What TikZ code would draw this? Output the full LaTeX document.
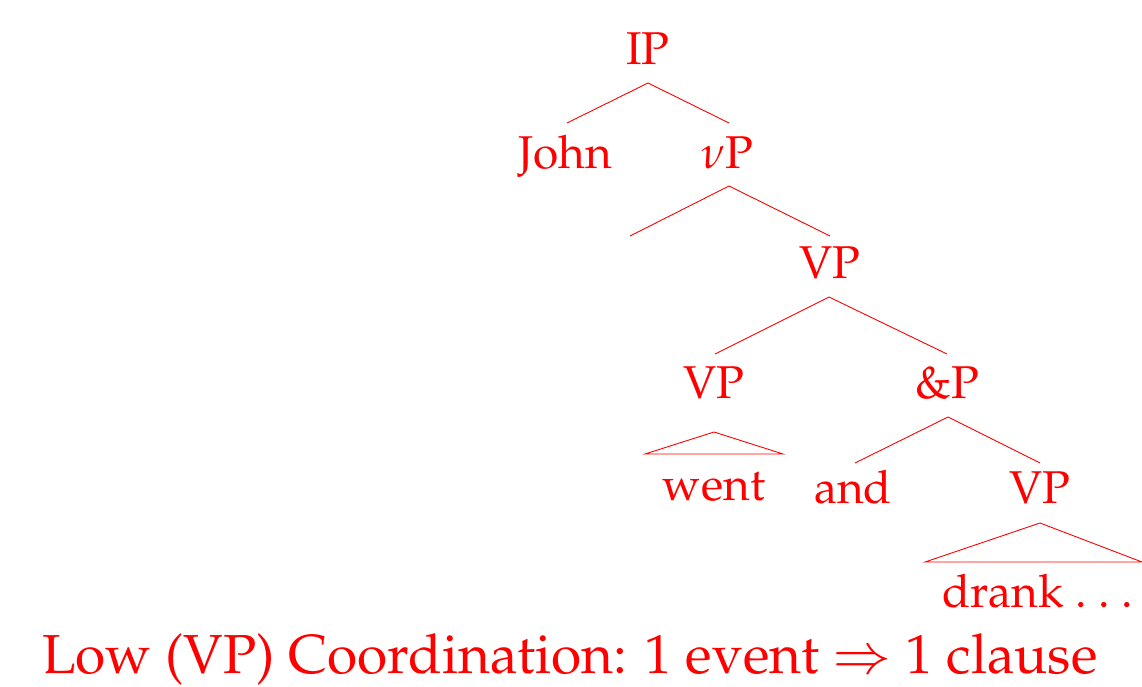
\documentclass[tikz,border=0pt]{standalone}
\usepackage[T1]{fontenc}
\usepackage{mathpazo}
\usetikzlibrary{calc}
\begin{document}
\begin{tikzpicture}[x=1pt,y=-1pt,
  lbl/.style={text=red, font=\fontsize{46}{50}\selectfont, anchor=base, inner sep=0pt},
  caption/.style={text=red, font=\fontsize{55}{60}\selectfont, anchor=base, inner sep=0pt},
  br/.style={draw=red, line width=0.9pt, line join=miter}]
\path[use as bounding box] (0,0) rectangle (1142,687);

% tree labels
\node[lbl] (ip)    at (648,65)  {IP};
\node[lbl] (john)  at (565,168) {John};
\node[lbl] (vp1)   at (727,168) {$\nu$P};
\coordinate (spec) at (630,236);
\node[lbl] (vp2)   at (830,278) {VP};
\node[lbl] (vp3)   at (714,398) {VP};
\node[lbl] (andp)  at (947,398) {\&P};
\node[lbl] (went)  at (714,500) {went};
\node[lbl] (and)   at (853,503) {and};
\node[lbl] (vp4)   at (1040,503) {VP};
\node[lbl] (drank) at (1038,607) {drank\hspace{0.25em}.\hspace{0.25em}.\hspace{0.25em}.};

% caption
\node[caption] (cap) at (570,673) {Low (VP) Coordination: 1 event $\Rightarrow$ 1 clause};

% branch end points
\coordinate (ip-f)   at ($(ip.base)+(0,18)$);
\coordinate (john-t) at ($(john.base)+(2,-45)$);
\coordinate (vp1-t)  at ($(vp1.base)+(2,-45)$);
\coordinate (vp1-f)  at ($(vp1.base)+(2,18)$);
\coordinate (vp2-t)  at ($(vp2.base)+(0,-42)$);
\coordinate (vp2-f)  at ($(vp2.base)+(-1,19)$);
\coordinate (vp3-t)  at ($(vp3.base)+(1,-44)$);
\coordinate (andp-t) at ($(andp.base)+(0,-44)$);
\coordinate (vp3-f)  at ($(vp3.base)+(0,34)$);
\coordinate (andp-f) at ($(andp.base)+(1,19)$);
\coordinate (and-t)  at ($(and.base)+(2,-40)$);
\coordinate (vp4-t)  at ($(vp4.base)+(0,-40)$);
\coordinate (vp4-f)  at ($(vp4.base)+(0,20)$);

% branches
\draw[br] (john-t) -- (ip-f) -- (vp1-t);
\draw[br] (spec) -- (vp1-f) -- (vp2-t);
\draw[br] (vp3-t) -- (vp2-f) -- (andp-t);
\draw[br] (and-t) -- (andp-f) -- (vp4-t);

% roof triangles
\draw[br] (vp3-f) -- ($(vp3-f)+(-69,22)$) -- ($(vp3-f)+(69,22)$) -- cycle;
\draw[br] (vp4-f) -- ($(vp4-f)+(-115,39)$) -- ($(vp4-f)+(102,39)$) -- cycle;
\end{tikzpicture}
\end{document}
